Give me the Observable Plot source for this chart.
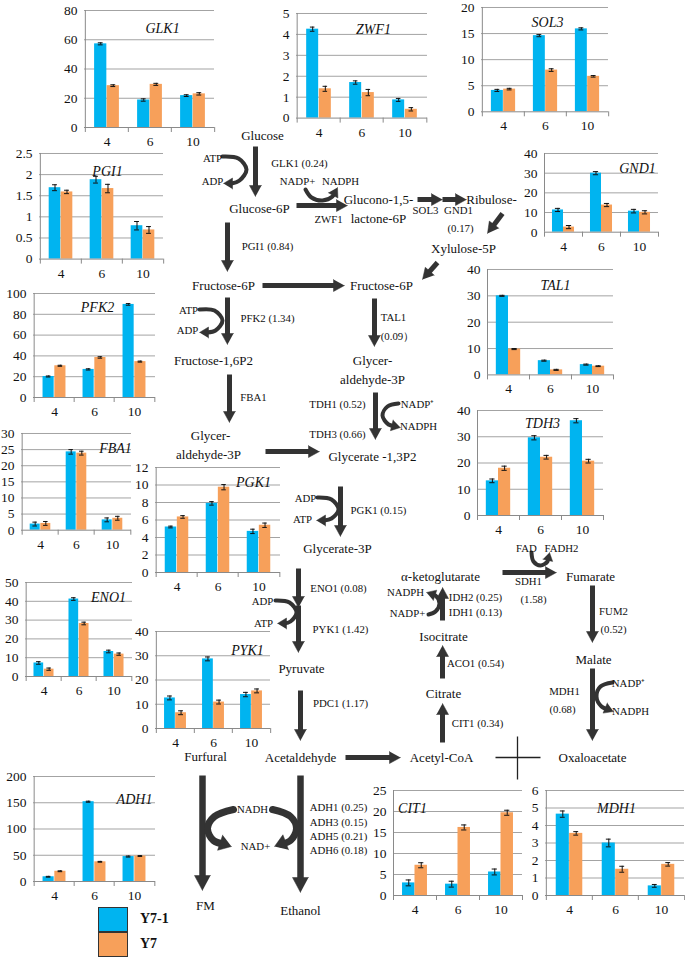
<!DOCTYPE html>
<html><head><meta charset="utf-8">
<script src="https://cdn.jsdelivr.net/npm/d3@7"></script>
<script src="https://cdn.jsdelivr.net/npm/@observablehq/plot@0.6"></script>
<style>
body{margin:0;background:#fff;}
#wrap{position:relative;width:685px;height:959px;overflow:hidden;font-family:"Liberation Serif","Times New Roman",serif;}
#wrap svg, #wrap svg text, #wrap svg tspan{font-family:"Liberation Serif","Times New Roman",serif !important;}
.lg{position:absolute;font-weight:bold;font-size:14px;color:#111;line-height:16px;}
.box{position:absolute;border:1px solid #333;box-sizing:border-box;}
</style></head><body><div id="wrap"></div>
<script>
// ---------- data ----------
const DOSES = ["4", "6", "10"];
const SERIES = ["Y7-1", "Y7"];
const COLORS = ["#00B4F0", "#F7A05A"];

const GLK1_Y71 = [57.2, 18.8, 21.8], GLK1_Y7 = [28.6, 29.5, 23.0];
const GLK1_E71 = [0.7, 0.8, 0.6], GLK1_E7 = [0.6, 0.7, 0.8];
const GLK1_TICKS = [0, 20, 40, 60, 80];

const ZWF1_Y71 = [4.25, 1.70, 0.87], ZWF1_Y7 = [1.40, 1.22, 0.42];
const ZWF1_E71 = [0.10, 0.08, 0.07], ZWF1_E7 = [0.12, 0.15, 0.08];
const ZWF1_TICKS = [0, 1, 2, 3, 4, 5];

const SOL3_Y71 = [4.1, 14.6, 15.9], SOL3_Y7 = [4.35, 8.0, 6.8];
const SOL3_E71 = [0.2, 0.2, 0.2], SOL3_E7 = [0.15, 0.25, 0.15];
const SOL3_TICKS = [0, 5, 10, 15, 20];

const PGI1_Y71 = [1.69, 1.88, 0.79], PGI1_Y7 = [1.59, 1.67, 0.69];
const PGI1_E71 = [0.07, 0.08, 0.10], PGI1_E7 = [0.04, 0.10, 0.08];
const PGI1_TICKS = [0, 0.5, 1, 1.5, 2, 2.5];

const GND1_Y71 = [11.3, 30.0, 10.7], GND1_Y7 = [2.6, 13.8, 10.1];
const GND1_E71 = [0.8, 0.8, 0.9], GND1_E7 = [0.8, 0.8, 0.8];
const GND1_TICKS = [0, 10, 20, 30, 40];

const TAL1_Y71 = [30.0, 5.4, 3.9], TAL1_Y7 = [9.8, 1.9, 3.3];
const TAL1_E71 = [0.2, 0.2, 0.2], TAL1_E7 = [0.2, 0.2, 0.15];
const TAL1_TICKS = [0, 10, 20, 30, 40];

const PFK2_Y71 = [20.2, 27.0, 89.5], PFK2_Y7 = [30.5, 38.5, 34.5];
const PFK2_E71 = [0.5, 0.6, 0.8], PFK2_E7 = [0.5, 0.7, 0.5];
const PFK2_TICKS = [0, 20, 40, 60, 80, 100];

const FBA1_Y71 = [1.9, 24.3, 3.2], FBA1_Y7 = [2.1, 23.9, 3.7];
const FBA1_E71 = [0.6, 0.7, 0.6], FBA1_E7 = [0.6, 0.6, 0.6];
const FBA1_TICKS = [0, 5, 10, 15, 20, 25, 30];

const PGK1_Y71 = [5.2, 7.9, 4.7], PGK1_Y7 = [6.35, 9.75, 5.4];
const PGK1_E71 = [0.1, 0.2, 0.25], PGK1_E7 = [0.15, 0.3, 0.25];
const PGK1_TICKS = [0, 2, 4, 6, 8, 10, 12];

const TDH3_Y71 = [13.2, 29.6, 36.1], TDH3_Y7 = [18.0, 22.2, 20.7];
const TDH3_E71 = [0.7, 0.8, 0.8], TDH3_E7 = [0.8, 0.7, 0.7];
const TDH3_TICKS = [0, 10, 20, 30, 40];

const ENO1_Y71 = [7.2, 41.2, 13.3], ENO1_Y7 = [3.9, 28.2, 11.9];
const ENO1_E71 = [0.7, 0.7, 0.7], ENO1_E7 = [0.6, 0.7, 0.6];
const ENO1_TICKS = [0, 10, 20, 30, 40, 50];

const PYK1_Y71 = [12.6, 28.7, 14.0], PYK1_Y7 = [6.5, 10.9, 15.5];
const PYK1_E71 = [0.8, 0.8, 0.9], PYK1_E7 = [0.8, 0.8, 0.8];
const PYK1_TICKS = [0, 10, 20, 30, 40];

const ADH1_Y71 = [9.0, 152.0, 47.5], ADH1_Y7 = [19.5, 37.5, 48.5];
const ADH1_E71 = [0.8, 1.0, 1.0], ADH1_E7 = [0.8, 0.8, 0.8];
const ADH1_TICKS = [0, 50, 100, 150, 200];

const CIT1_Y71 = [3.0, 2.7, 5.6], CIT1_Y7 = [7.2, 16.2, 19.7];
const CIT1_E71 = [0.7, 0.7, 0.7], CIT1_E7 = [0.6, 0.6, 0.6];
const CIT1_TICKS = [0, 5, 10, 15, 20, 25];

const MDH1_Y71 = [4.65, 3.0, 0.55], MDH1_Y7 = [3.55, 1.5, 1.78];
const MDH1_E71 = [0.18, 0.22, 0.08], MDH1_E7 = [0.10, 0.17, 0.10];
const MDH1_TICKS = [0, 1, 2, 3, 4, 5, 6];

const CHARTS = [
  {name: "GLK1", y71: GLK1_Y71, y7: GLK1_Y7, e71: GLK1_E71, e7: GLK1_E7, ticks: GLK1_TICKS},
  {name: "ZWF1", y71: ZWF1_Y71, y7: ZWF1_Y7, e71: ZWF1_E71, e7: ZWF1_E7, ticks: ZWF1_TICKS},
  {name: "SOL3", y71: SOL3_Y71, y7: SOL3_Y7, e71: SOL3_E71, e7: SOL3_E7, ticks: SOL3_TICKS},
  {name: "PGI1", y71: PGI1_Y71, y7: PGI1_Y7, e71: PGI1_E71, e7: PGI1_E7, ticks: PGI1_TICKS},
  {name: "GND1", y71: GND1_Y71, y7: GND1_Y7, e71: GND1_E71, e7: GND1_E7, ticks: GND1_TICKS},
  {name: "TAL1", y71: TAL1_Y71, y7: TAL1_Y7, e71: TAL1_E71, e7: TAL1_E7, ticks: TAL1_TICKS},
  {name: "PFK2", y71: PFK2_Y71, y7: PFK2_Y7, e71: PFK2_E71, e7: PFK2_E7, ticks: PFK2_TICKS},
  {name: "FBA1", y71: FBA1_Y71, y7: FBA1_Y7, e71: FBA1_E71, e7: FBA1_E7, ticks: FBA1_TICKS},
  {name: "PGK1", y71: PGK1_Y71, y7: PGK1_Y7, e71: PGK1_E71, e7: PGK1_E7, ticks: PGK1_TICKS},
  {name: "TDH3", y71: TDH3_Y71, y7: TDH3_Y7, e71: TDH3_E71, e7: TDH3_E7, ticks: TDH3_TICKS},
  {name: "ENO1", y71: ENO1_Y71, y7: ENO1_Y7, e71: ENO1_E71, e7: ENO1_E7, ticks: ENO1_TICKS},
  {name: "PYK1", y71: PYK1_Y71, y7: PYK1_Y7, e71: PYK1_E71, e7: PYK1_E7, ticks: PYK1_TICKS},
  {name: "ADH1", y71: ADH1_Y71, y7: ADH1_Y7, e71: ADH1_E71, e7: ADH1_E7, ticks: ADH1_TICKS},
  {name: "CIT1", y71: CIT1_Y71, y7: CIT1_Y7, e71: CIT1_E71, e7: CIT1_E7, ticks: CIT1_TICKS},
  {name: "MDH1", y71: MDH1_Y71, y7: MDH1_Y7, e71: MDH1_E71, e7: MDH1_E7, ticks: MDH1_TICKS}
];

// ---------- layout (pixel frame of each small chart: axisX, rightX, topY, zeroY, titleX, titleY) ----------
const LAYOUT = {
  GLK1: [84, 214, 10, 127, 162, 23],
  ZWF1: [296, 427, 12.7, 117.3, 373, 23],
  SOL3: [481, 608, 6.7, 111, 547, 16],
  PGI1: [39, 163, 152.7, 258.3, 107, 165],
  GND1: [544, 658, 153.3, 232, 637, 163],
  TAL1: [487, 613, 269.3, 374.7, 555, 280],
  PFK2: [33, 155, 292.7, 396.7, 97, 301],
  FBA1: [21, 131, 433.3, 530, 115, 443],
  PGK1: [155, 280, 466.7, 571.7, 253, 476],
  TDH3: [477, 603, 410, 515, 542, 418],
  ENO1: [25, 132, 582, 676, 108, 592],
  PYK1: [155, 270, 631, 728, 247, 645],
  ADH1: [33, 155, 776, 881, 134, 794],
  CIT1: [393, 522, 790, 895, 412, 803],
  MDH1: [545, 684, 790, 895, 616, 803]
};

const FONT = '"Liberation Serif", "Times New Roman", serif';
const GRID = "#a3a3a3", AXIS = "#8a8a8a", INK = "#333";
const wrap = document.getElementById("wrap");
function place(el, left, top) {
  el.style.position = "absolute";
  el.style.left = left + "px";
  el.style.top = top + "px";
  wrap.appendChild(el);
}

// ---------- pathway diagram ----------
const METAB = [
  ["Glucose", 262, 135], ["Glucose-6P", 259, 208], ["Glucono-1,5-", 378, 199], ["lactone-6P", 378, 218],
  ["Ribulose-", 491, 199], ["Xylulose-5P", 463, 248], ["Fructose-6P", 223, 285], ["Fructose-6P", 381, 285],
  ["Fructose-1,6P2", 213, 360], ["Glycer-", 210, 435], ["aldehyde-3P", 208, 454],
  ["Glycer-", 372, 360], ["aldehyde-3P", 372, 379], ["Glycerate -1,3P2", 372, 456],
  ["Glycerate-3P", 337, 548], ["Pyruvate", 301, 668], ["Acetaldehyde", 300, 757], ["Furfural", 205, 756],
  ["Acetyl-CoA", 441, 757], ["Oxaloacetate", 592, 757], ["α-ketoglutarate", 440, 576],
  ["Isocitrate", 443, 636], ["Citrate", 443, 693], ["Fumarate", 590, 576], ["Malate", 593, 659],
  ["FM", 205, 905], ["Ethanol", 300, 910]
];
const ENZ = [
  ["ATP", 212, 158], ["ADP", 212, 181], ["GLK1 (0.24)", 299, 163], ["NADP+", 297, 181], ["NADPH", 340, 181],
  ["ZWF1", 328, 219], ["SOL3", 425, 210], ["GND1", 458, 210], ["(0.17)", 460, 228], ["PGI1 (0.84)", 267, 246],
  ["ATP", 188, 310], ["ADP", 187, 330], ["PFK2 (1.34)", 267, 318], ["TAL1", 393, 317], ["(0.09）", 397, 336],
  ["FBA1", 253, 397], ["TDH1 (0.52)", 337, 404], ["TDH3 (0.66)", 337, 434], ["NADP⁺", 417, 404], ["NADPH", 418, 426],
  ["ADP", 305, 498], ["ATP", 302, 519], ["PGK1 (0.15)", 378, 510],
  ["ENO1 (0.08)", 338, 588], ["ADP", 262, 601], ["ATP", 263, 623], ["PYK1 (1.42)", 340, 629], ["PDC1 (1.17)", 340, 703],
  ["NADPH", 405, 592], ["NADP+", 407, 613], ["IDH2 (0.25)", 475, 597], ["IDH1 (0.13)", 475, 612],
  ["ACO1 (0.54)", 475, 663], ["CIT1 (0.34)", 477, 723], ["FAD", 526, 548], ["FADH2", 561, 548],
  ["SDH1", 528, 581], ["(1.58)", 533, 599], ["FUM2", 613, 611], ["(0.52)", 613, 629],
  ["MDH1", 564, 691], ["(0.68)", 562, 709], ["NADP⁺", 628, 683], ["NADPH", 630, 711],
  ["NADH", 252, 809], ["NAD+", 255, 846],
  ["ADH1 (0.25)", 338, 807], ["ADH3 (0.15)", 338, 822], ["ADH5 (0.21)", 338, 836], ["ADH6 (0.18)", 338, 850]
];
// straight arrows: x1,y1 -> tip x2,y2, shaft width, head length, head half-width
const ARROWS = [
  [255,146,255,196,5,11,6], [296,205,347,205,5,11,6], [417,199,442,199,5,11,6], [442,199,466,199,5,11,6],
  [502,213,487,233,5,11,6], [437,262,422,279,5,11,6], [227,222,227,271,5,11,6], [262,285,344,285,5,11,6],
  [227,297,227,344,5,11,6], [229,374,229,422,5,11,6], [265,451,319,451,5,11,6], [374,298,374,346,5,11,6],
  [375,392,375,439,5,11,6], [340,486,340,536,5,11,6], [298,568,298,607,5,11,6], [298,605,298,652,5,11,6],
  [300,690,300,740,5,11,6], [345,757,400,757,5,11,6], [442,742,442,703,5,11,6], [442,678,442,645,5,11,6],
  [442,620,442,587,5,11,6], [502,572,556,572,5,11,6], [592,585,592,642,5,11,6], [592,668,592,740,5,11,6],
  [202,775,202,890,6.5,15,8], [300,775,300,892,6.5,15,8]
];
// curved cofactor arrows: control points, stroke width, head length, head half-width
const CURVES = [
  [[[222,156],[238,158],[246,169],[239,180],[231,183],[223,183]], 4, 9, 5.5],
  [[[305,189],[311,197],[322,200],[332,196],[337,187]], 4, 9, 5.5],
  [[[199,309],[214,310],[222,320],[215,330],[206,332],[199,332]], 4, 9, 5.5],
  [[[398,403],[387,406],[382,415],[388,424],[400,427]], 4, 9, 5.5],
  [[[317,497],[331,499],[338,509],[331,518],[323,520],[316,520]], 4, 9, 5.5],
  [[[275,600],[289,602],[296,612],[290,621],[283,623],[277,623]], 4, 9, 5.5],
  [[[428,614],[435,611],[439,603],[435,595],[426,592]], 4, 9, 5.5],
  [[[612,682],[600,686],[596,696],[601,706],[613,711]], 4, 9, 5.5],
  [[[531,552],[533,561],[540,565],[547,561],[549,552]], 4, 8, 5],
  [[[233,809],[214,816],[207,828],[213,840],[231,846]], 7, 12, 8],
  [[[272,809],[290,816],[296,828],[290,840],[274,846]], 7, 12, 8]
];
const CROSS = [[495,757,540,757],[517,736,517,779]];

function headTri(tx, ty, ux, uy, len, hw, id) {
  const bx = tx - ux * len, by = ty - uy * len, nx = -uy, ny = ux;
  return [
    {id, x: tx, y: ty}, {id, x: bx + nx * hw, y: by + ny * hw}, {id, x: bx - nx * hw, y: by - ny * hw}
  ];
}
const shafts = [], heads = [], curvePts = [], bigCurvePts = [];
ARROWS.forEach(([x1, y1, x2, y2, w, hl, hw], i) => {
  const L = Math.hypot(x2 - x1, y2 - y1), ux = (x2 - x1) / L, uy = (y2 - y1) / L;
  shafts.push({x1, y1, x2: x2 - ux * hl * 0.6, y2: y2 - uy * hl * 0.6, w});
  heads.push(...headTri(x2, y2, ux, uy, hl, hw, "a" + i));
});
CURVES.forEach(([pts, w, hl, hw], i) => {
  const n = pts.length, [px, py] = pts[n - 2], [tx, ty] = pts[n - 1];
  const L = Math.hypot(tx - px, ty - py), ux = (tx - px) / L, uy = (ty - py) / L;
  const target = w > 5 ? bigCurvePts : curvePts;
  pts.forEach(([x, y], j) => {
    if (j === n - 1) target.push({id: "c" + i, x: x - ux * hl * 0.6, y: y - uy * hl * 0.6});
    else target.push({id: "c" + i, x, y});
  });
  heads.push(...headTri(tx, ty, ux, uy, hl, hw, "c" + i));
});

const diagram = Plot.plot({
  width: 685, height: 959, margin: 0,
  x: {type: "identity"}, y: {type: "identity"},
  style: {background: "transparent", fontFamily: FONT, overflow: "visible"},
  marks: [
    Plot.link(shafts, {x1: "x1", y1: "y1", x2: "x2", y2: "y2", stroke: INK, strokeWidth: "w"}),
    Plot.line(curvePts, {x: "x", y: "y", z: "id", curve: "catmull-rom", stroke: INK, strokeWidth: 4}),
    Plot.line(bigCurvePts, {x: "x", y: "y", z: "id", curve: "catmull-rom", stroke: INK, strokeWidth: 7}),
    Plot.line(heads, {x: "x", y: "y", z: "id", fill: INK, stroke: INK, strokeWidth: 0.5}),
    Plot.link(CROSS, {x1: d => d[0], y1: d => d[1], x2: d => d[2], y2: d => d[3], stroke: "#222", strokeWidth: 1.3}),
    Plot.text(METAB, {x: d => d[1], y: d => d[2], text: d => d[0], fontSize: 13, fontFamily: FONT, fill: "#111"}),
    Plot.text(ENZ, {x: d => d[1], y: d => d[2], text: d => d[0], fontSize: 10.8, fontFamily: FONT, fill: "#111"})
  ]
});
place(diagram, 0, 0);

// ---------- small grouped bar charts ----------
function makeChart(c) {
  const [ax, rx, yt, yb, tx, ty] = LAYOUT[c.name];
  const mL = Math.min(34, Math.floor(ax)), mR = 3, mT = 8, mB = 26;
  const iw = rx - ax, ih = yb - yt;
  const bw = iw / DOSES.length;
  const barW = bw * 0.29;
  const off = (bw - 2 * barW) / 2;
  const cap = 2.6;
  const ymax = c.ticks[c.ticks.length - 1];
  const rows = DOSES.flatMap((d, i) => [
    {dose: d, series: SERIES[0], v: c.y71[i], e: c.e71[i], k: 0},
    {dose: d, series: SERIES[1], v: c.y7[i], e: c.e7[i], k: 1}
  ]);
  const marks = [Plot.ruleY(c.ticks.slice(1), {stroke: GRID, strokeWidth: 1})];
  [0, 1].forEach(k => {
    const data = rows.filter(r => r.k === k);
    const left = off + k * barW, center = left + barW / 2;
    marks.push(Plot.barY(data, {x: "dose", y: "v", fill: COLORS[k], insetLeft: left, insetRight: bw - left - barW}));
    marks.push(Plot.ruleX(data, {x: "dose", y1: d => d.v - d.e, y2: d => d.v + d.e, dx: center - bw / 2, stroke: "#111", strokeWidth: 1}));
    marks.push(Plot.tickY(data, {x: "dose", y: d => d.v + d.e, insetLeft: center - cap, insetRight: bw - center - cap, stroke: "#111", strokeWidth: 1}));
    marks.push(Plot.tickY(data, {x: "dose", y: d => d.v - d.e, insetLeft: center - cap, insetRight: bw - center - cap, stroke: "#111", strokeWidth: 1}));
  });
  marks.push(Plot.ruleY([0], {stroke: AXIS}));
  marks.push(Plot.ruleX([DOSES[0]], {x: d => d, y1: 0, y2: ymax, dx: -bw / 2, stroke: AXIS}));
  marks.push(Plot.ruleX(DOSES, {x: d => d, y1: 0, y2: 0, insetTop: 5, dx: -bw / 2, stroke: AXIS}));
  marks.push(Plot.ruleX([DOSES[DOSES.length - 1]], {x: d => d, y1: 0, y2: 0, insetTop: 5, dx: bw / 2, stroke: AXIS}));
  marks.push(Plot.text([c.name], {text: d => d, frameAnchor: "top-left", dx: tx - ax, dy: ty - yt, fontStyle: "italic", fontSize: 14, fontFamily: FONT, textAnchor: "middle", fill: "#111"}));
  const svg = Plot.plot({
    width: iw + mL + mR, height: ih + mT + mB,
    marginLeft: mL, marginRight: mR, marginTop: mT, marginBottom: mB,
    x: {domain: DOSES, padding: 0, tickSize: 0, tickPadding: 9, label: null},
    y: {domain: [0, ymax], ticks: c.ticks, tickSize: 0, tickPadding: 7, label: null, tickFormat: d => String(d)},
    style: {background: "transparent", fontFamily: FONT, fontSize: "13.5px", color: "#111", overflow: "visible"},
    marks
  });
  place(svg, ax - mL, yt - mT);
}
CHARTS.forEach(makeChart);

// ---------- legend ----------
const LEGEND_POS = [[98, 907], [98, 932]];
SERIES.forEach((s, i) => {
  const b = document.createElement("div");
  b.className = "box";
  b.style.cssText += `left:${LEGEND_POS[i][0]}px;top:${LEGEND_POS[i][1]}px;width:30px;height:25px;background:${COLORS[i]};`;
  wrap.appendChild(b);
  const t = document.createElement("div");
  t.className = "lg";
  t.textContent = s;
  t.style.cssText += `left:${LEGEND_POS[i][0] + 42}px;top:${LEGEND_POS[i][1] + 4}px;`;
  wrap.appendChild(t);
});
</script>
</body></html>
